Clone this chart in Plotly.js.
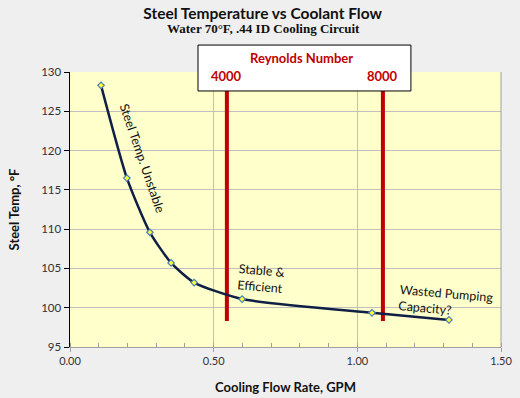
<!DOCTYPE html>
<html><head><meta charset="utf-8">
<script src="https://cdn.plot.ly/plotly-3.0.1.min.js"></script>
<style>html,body{margin:0;padding:0;background:#efefef;}</style>
</head><body><div id="chart" style="width:520px;height:398px;"></div>
<script>
const flowGPM = [0.108, 0.198, 0.278, 0.352, 0.432, 0.599, 1.051, 1.319];
const steelTemp = [128.3, 116.5, 109.6, 105.7, 103.2, 101.1, 99.35, 98.45];
const reynoldsFlow = [0.546, 1.089];
const reynoldsLabels = ['4000', '8000'];
const reynoldsLineBottom = 98.3;
const reynoldsLineTop = 130;

const FONT = 'Lato, "Open Sans", sans-serif';
const RED = '#c00000';

const traces = [];
reynoldsFlow.forEach((x) => {
  traces.push({x: [x, x], y: [reynoldsLineBottom, reynoldsLineTop], mode: 'lines',
    line: {color: RED, width: 4}, hoverinfo: 'skip', showlegend: false});
});
traces.push({x: flowGPM, y: steelTemp, mode: 'lines+markers', showlegend: false,
  line: {color: '#0f1f45', width: 2.5, shape: 'spline', smoothing: 0.6},
  marker: {symbol: 'diamond', size: 5, color: '#ffff33', line: {color: '#4a7ebb', width: 1.2}}});

const annotations = [
  {text: 'Water 70°F, .44 ID Cooling Circuit', xref: 'paper', yref: 'paper', x: 0.45, y: 1.16,
   xanchor: 'center', yanchor: 'middle', showarrow: false,
   font: {family: '"Liberation Serif", "Times New Roman", serif', size: 13, color: '#111', weight: 'bold'}},
  {text: '<b>Reynolds Number</b>', xref: 'paper', yref: 'paper', x: 0.538, y: 1.051,
   xanchor: 'center', yanchor: 'middle', showarrow: false, font: {family: FONT, size: 13, color: RED}},
  {text: 'Steel Temp. Unstable', xref: 'x', yref: 'y', x: 0.252, y: 119.0, textangle: 71,
   showarrow: false, font: {family: FONT, size: 12.5, color: '#111'}},
  {text: 'Stable &amp;<br>Efficient', xref: 'x', yref: 'y', x: 0.665, y: 103.7, textangle: 5, align: 'left',
   showarrow: false, font: {family: FONT, size: 12.5, color: '#111'}},
  {text: 'Wasted Pumping<br>Capacity?', xref: 'x', yref: 'y', x: 1.31, y: 100.8, textangle: 5, align: 'left',
   showarrow: false, font: {family: FONT, size: 12.5, color: '#111'}}
];
reynoldsFlow.forEach((x, i) => {
  annotations.push({text: '<b>' + reynoldsLabels[i] + '</b>', xref: 'x', yref: 'paper', x: x, y: 0.985,
    xanchor: 'center', yanchor: 'middle', showarrow: false, font: {family: FONT, size: 13, color: RED}});
});

const layout = {
  width: 520, height: 398,
  margin: {l: 70, r: 19, t: 72, b: 51},
  paper_bgcolor: '#efefef', plot_bgcolor: '#ffffcc',
  font: {family: FONT, color: '#222'},
  title: {text: '<b>Steel Temperature vs Coolant Flow</b>', x: 0.505, xanchor: 'center', y: 0.965, yanchor: 'middle',
    font: {family: FONT, size: 15.5, color: '#111'}},
  xaxis: {range: [0, 1.5], dtick: 0.5, tickformat: '.2f', showgrid: true, gridcolor: '#c0c0c0', gridwidth: 1,
    showline: true, linecolor: '#a0a0a0', linewidth: 1, ticks: 'outside', ticklen: 4, tickcolor: '#a0a0a0',
    minor: {dtick: 0.1, ticks: 'inside', ticklen: 4, tickcolor: '#a0a0a0', showgrid: false},
    zeroline: false, tickfont: {size: 11, color: '#333'},
    title: {text: '<b>Cooling Flow Rate, GPM</b>', font: {size: 13, color: '#111'}, standoff: 16}},
  yaxis: {range: [95, 130], dtick: 5, showgrid: true, gridcolor: '#c0c0c0', gridwidth: 1,
    showline: true, linecolor: '#000', linewidth: 1.5, ticks: 'outside', ticklen: 5, tickcolor: '#000',
    zeroline: false, tickfont: {size: 11.5, color: '#333'},
    title: {text: '<b>Steel Temp, °F</b>', font: {size: 13, color: '#111'}, standoff: 18}},
  shapes: [
    {type: 'line', xref: 'paper', yref: 'paper', x0: 1, x1: 1, y0: 0, y1: 1, line: {color: '#a0a0a0', width: 1}},
    {type: 'rect', xref: 'paper', yref: 'paper', x0: 0.297, x1: 0.791, y0: 0.931, y1: 1.098,
     fillcolor: '#ffffff', line: {color: '#000', width: 1}, layer: 'above'}
  ],
  annotations: annotations
};
Plotly.newPlot('chart', traces, layout, {displayModeBar: false, staticPlot: true});
</script></body></html>
